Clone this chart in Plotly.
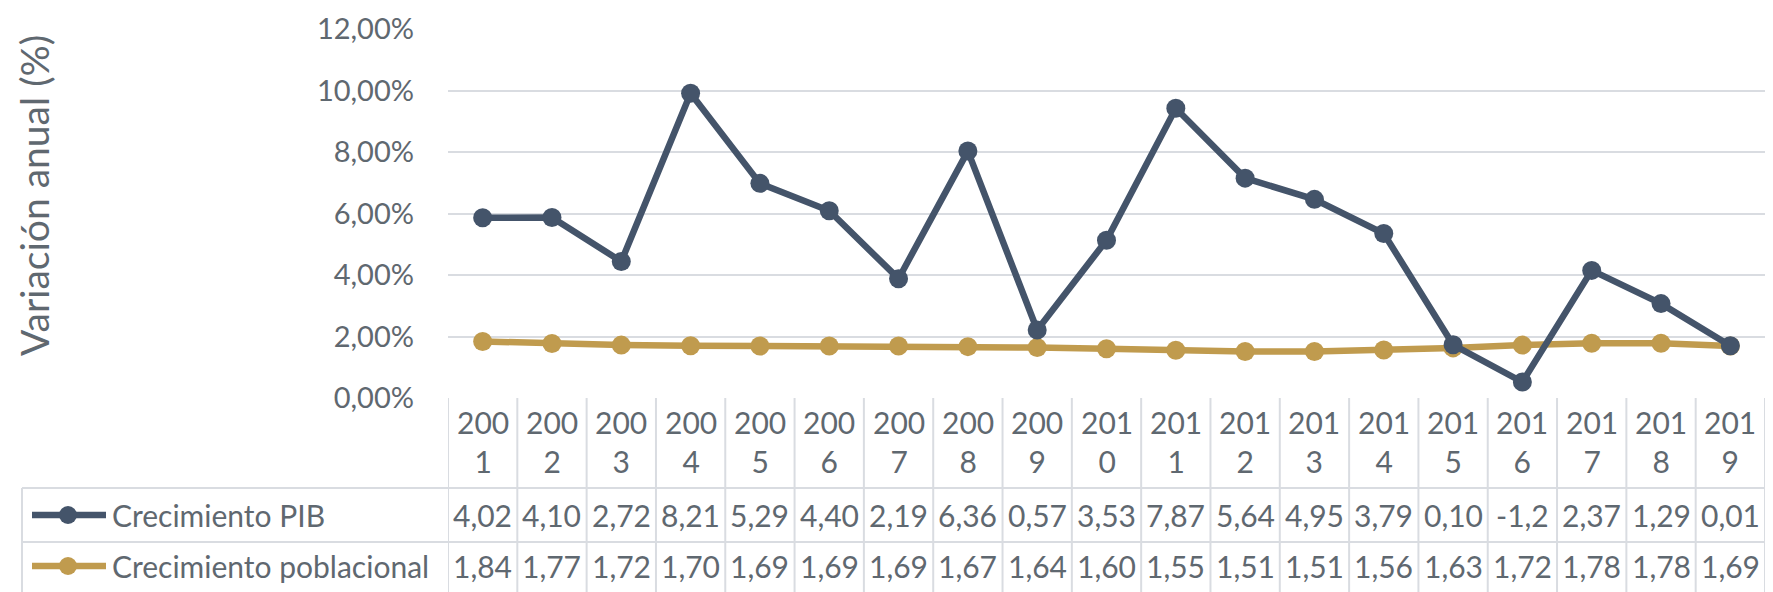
import plotly.graph_objects as go

# Años (categorías) y series en puntos porcentuales
years = [str(y) for y in range(2001, 2020)]
crecimiento_pib = [4.02, 4.10, 2.72, 8.21, 5.29, 4.40, 2.19, 6.36, 0.57, 3.53,
                   7.87, 5.64, 4.95, 3.79, 0.10, -1.2, 2.37, 1.29, 0.01]
crecimiento_poblacional = [1.84, 1.77, 1.72, 1.70, 1.69, 1.69, 1.69, 1.67, 1.64, 1.60,
                           1.55, 1.51, 1.51, 1.56, 1.63, 1.72, 1.78, 1.78, 1.69]
series_names = ["Crecimiento PIB", "Crecimiento poblacional"]
y_ticks = [0, 2, 4, 6, 8, 10, 12]

W, H = 1773, 592
ML, MR, MT, MB = 448, 8, 29, 194
PW, PH = W - ML - MR, H - MT - MB

C_PIB = "#44546A"
C_POB = "#C09B4E"
C_TXT = "#5F6870"
C_GRID = "#D9DCE1"
FONT = "Lato, 'Open Sans', sans-serif"
TABLE_FONT = 30


def px_x(px):
    return (px - ML) / PW


def px_y(py):
    return (H - MB - py) / PH


def pct(v):
    return f"{v:.2f}".replace(".", ",") + "%"


def cell_text(v):
    # el ancho de la celda recorta el texto a cuatro caracteres
    return f"{v:.2f}".replace(".", ",")[:4]


fig = go.Figure()

# Líneas apiladas: la población en la base y el PIB encima
stack_pob = list(crecimiento_poblacional)
stack_pib = [a + b for a, b in zip(crecimiento_poblacional, crecimiento_pib)]

fig.add_trace(go.Scatter(
    x=years, y=stack_pob, mode="lines+markers", name=series_names[1],
    line=dict(color=C_POB, width=6.5), marker=dict(size=19, color=C_POB),
    showlegend=False, cliponaxis=False,
))
fig.add_trace(go.Scatter(
    x=years, y=stack_pib, mode="lines+markers", name=series_names[0],
    line=dict(color=C_PIB, width=6.5), marker=dict(size=19, color=C_PIB),
    showlegend=False, cliponaxis=False,
))

shapes = []
annotations = []

# Tabla de datos bajo el gráfico
y_top = px_y(398)
y_r1 = px_y(488)
y_r2 = px_y(542)
y_bot = px_y(600)
x_leg = px_x(22)
line_style = dict(color=C_GRID, width=2)

# bordes horizontales
for yy in (y_r1, y_r2):
    shapes.append(dict(type="line", xref="paper", yref="paper", x0=x_leg, x1=1,
                       y0=yy, y1=yy, line=line_style))
# bordes verticales de las columnas de años
for i in range(len(years) + 1):
    shapes.append(dict(type="line", xref="x", yref="paper", x0=i - 0.5, x1=i - 0.5,
                       y0=y_top, y1=y_bot, line=line_style))
# borde izquierdo de la columna de leyenda
shapes.append(dict(type="line", xref="paper", yref="paper", x0=x_leg, x1=x_leg,
                   y0=y_r1, y1=y_bot, line=line_style))

# rótulos de años en dos líneas
for i, yr in enumerate(years):
    annotations.append(dict(x=i, xref="x", y=px_y(441), yref="paper",
                            text=f"{yr[:3]}<br>{yr[3:]}", showarrow=False,
                            font=dict(size=TABLE_FONT, color=C_TXT, family=FONT),
                            align="center", xanchor="center", yanchor="middle"))

# filas de valores con su muestra de serie
rows = [(series_names[0], crecimiento_pib, C_PIB, 515),
        (series_names[1], crecimiento_poblacional, C_POB, 566)]
for name, vals, col, yc in rows:
    for i, v in enumerate(vals):
        annotations.append(dict(x=i, xref="x", y=px_y(yc), yref="paper",
                                text=cell_text(v), showarrow=False,
                                font=dict(size=TABLE_FONT, color=C_TXT, family=FONT),
                                xanchor="center", yanchor="middle"))
    annotations.append(dict(x=px_x(110), xref="paper", y=px_y(yc), yref="paper",
                            text=name, showarrow=False,
                            font=dict(size=TABLE_FONT, color=C_TXT, family=FONT),
                            xanchor="left", yanchor="middle"))
    shapes.append(dict(type="line", xref="paper", yref="paper",
                       x0=px_x(32), x1=px_x(106), y0=px_y(yc), y1=px_y(yc),
                       line=dict(color=col, width=6.5)))
    r = 9
    shapes.append(dict(type="circle", xref="paper", yref="paper",
                       x0=px_x(68 - r), x1=px_x(68 + r), y0=px_y(yc + r), y1=px_y(yc - r),
                       fillcolor=col, line=dict(color=col, width=0)))

# título del eje vertical
annotations.append(dict(x=px_x(34), xref="paper", y=px_y(196), yref="paper",
                        text="Variación anual (%)", textangle=-90, showarrow=False,
                        font=dict(size=39, color=C_TXT, family=FONT),
                        xanchor="center", yanchor="middle"))

fig.update_layout(
    width=W, height=H,
    margin=dict(l=ML, r=MR, t=MT, b=MB, pad=0),
    paper_bgcolor="white", plot_bgcolor="white",
    font=dict(family=FONT, color=C_TXT),
    shapes=shapes, annotations=annotations,
    xaxis=dict(type="category", range=[-0.5, len(years) - 0.5],
               showticklabels=False, showgrid=False, zeroline=False, showline=False,
               ticks="", fixedrange=True),
    yaxis=dict(range=[0, 12], tickmode="array", tickvals=y_ticks,
               ticktext=[pct(v) for v in y_ticks],
               showgrid=True, gridcolor=C_GRID, gridwidth=2, zeroline=False,
               showline=False, ticks="", ticklabelstandoff=33,
               tickfont=dict(size=29, color=C_TXT, family=FONT)),
)

fig.write_html("out.html")
